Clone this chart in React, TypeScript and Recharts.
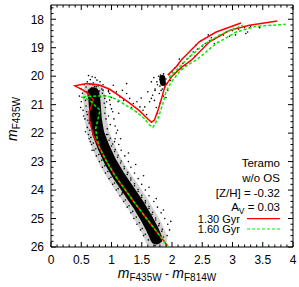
import React from 'react';
import { ComposedChart, Scatter, XAxis, YAxis } from 'recharts';

const FONT = '"Liberation Sans", Arial, Helvetica, sans-serif';

// tick labels
const X_MAJOR = [0, 0.5, 1, 1.5, 2, 2.5, 3, 3.5, 4];
const Y_MAJOR = [18, 19, 20, 21, 22, 23, 24, 25, 26];
const xTicks = Array.from({ length: 41 }, (_, i) => +(i * 0.1).toFixed(1));
const yTicks = Array.from({ length: 43 }, (_, i) => +(17.6 + i * 0.2).toFixed(1));

// isochrone 1.30 Gyr: MS -> turnoff hook -> subgiant -> RGB
const iso130: [number, number][] = [
  [1.94, 26.0], [1.76, 25.5], [1.58, 25.0], [1.4, 24.5], [1.23, 24.0], [1.06, 23.5],
  [0.92, 23.0], [0.8, 22.5], [0.7, 22.07], [0.64, 21.6], [0.63, 21.25], [0.67, 21.02],
  [0.7, 20.84], [0.61, 20.6], [0.53, 20.49], [0.395, 20.34], [0.59, 20.26], [0.81, 20.32],
  [0.97, 20.46], [1.15, 20.72], [1.3, 20.95], [1.465, 21.22], [1.575, 21.45], [1.66, 21.62],
  [1.71, 21.54], [1.77, 21.19], [1.82, 20.84], [1.88, 20.37], [2.0, 20.0], [2.15, 19.7],
  [2.32, 19.44], [2.62, 18.79], [2.95, 18.39], [3.28, 18.21], [3.74, 18.06],
];
const iso130Agb: [number, number][] = [
  [1.93, 19.96], [2.07, 19.67], [2.15, 19.44], [2.45, 18.79], [2.73, 18.45], [3.14, 18.13],
];

// isochrone 1.60 Gyr
const iso160: [number, number][] = [
  [1.94, 26.0], [1.76, 25.5], [1.58, 25.0], [1.4, 24.5], [1.23, 24.0], [1.06, 23.5],
  [0.92, 23.0], [0.8, 22.5], [0.75, 22.07], [0.74, 21.83], [0.78, 21.48], [0.81, 21.19],
  [0.72, 21.02], [0.64, 20.84], [0.5, 20.73], [0.81, 20.69], [0.97, 20.72], [1.11, 20.84],
  [1.19, 20.96], [1.41, 21.25], [1.55, 21.5], [1.62, 21.7], [1.685, 21.8], [1.77, 21.48],
  [1.85, 20.96], [1.9, 20.55], [1.99, 20.2], [2.12, 19.85], [2.26, 19.6], [2.4, 19.44],
  [2.73, 18.85], [3.06, 18.45], [3.39, 18.25], [3.88, 18.18],
];
const iso160Agb: [number, number][] = [
  [1.95, 20.05], [2.1, 19.73], [2.23, 19.44], [2.51, 18.91], [2.78, 18.56], [3.17, 18.21],
];

// ridge of the densest part of the star cloud
const msRidge: [number, number][] = [
  [0.7, 20.6], [0.72, 20.9], [0.74, 21.5], [0.78, 22.0], [0.87, 22.5], [0.98, 23.0],
  [1.12, 23.5], [1.28, 24.0], [1.44, 24.5], [1.58, 25.0], [1.68, 25.4], [1.74, 25.7],
];
const clumpRidge: [number, number][] = [[1.84, 20.06], [1.85, 20.24]];

// individual stars
const stars: [number, number][] = [
  // above the turnoff
  [0.62, 19.98], [0.68, 20.02], [0.73, 20.05], [0.65, 20.12], [0.76, 20.14], [0.6, 20.2],
  [0.81, 20.2], [0.7, 20.24], [0.55, 20.3], [0.64, 20.28], [0.86, 20.3], [0.58, 20.38],
  [0.78, 20.34], [0.9, 20.4], [0.72, 20.36], [0.67, 20.42], [0.84, 20.45], [0.5, 20.45],
  [0.95, 20.5], [0.62, 20.5], [0.69, 20.3], [0.74, 20.44], [0.8, 20.52], [0.66, 20.58],
  [0.77, 20.62], [0.85, 20.6], [0.63, 20.66], [0.88, 20.68], [0.59, 20.55], [0.71, 20.5],
  [0.68, 20.72], [0.75, 20.76], [0.82, 20.72], [0.7, 20.82], [0.79, 20.86], [0.66, 20.9],
  // turnoff fringes
  [0.52, 20.6], [0.5, 20.9], [0.53, 21.2], [0.56, 21.5], [0.6, 21.8], [0.62, 22.05],
  [0.55, 20.75], [0.58, 21.05], [0.6, 21.35], [0.63, 21.65], [0.47, 20.7], [0.49, 21.1],
  [0.54, 21.4], [0.57, 21.95], [0.65, 22.3], [0.68, 22.6], [0.57, 20.85], [0.59, 21.25],
  [0.61, 21.55], [0.64, 21.9],
  [0.95, 20.55], [1.0, 20.75], [0.98, 21.0], [1.02, 21.25], [1.04, 21.5], [1.06, 21.75],
  [1.08, 22.0], [0.92, 20.9], [0.95, 21.4], [0.98, 21.7], [1.12, 21.3], [1.1, 21.9],
  [1.15, 22.2], [1.05, 22.3], [1.0, 21.15], [0.9, 20.7], [0.9, 21.1], [0.91, 21.5],
  [0.93, 21.85], [0.88, 20.95], [0.94, 22.05], [0.89, 21.3],
  // subgiants
  [0.75, 20.37], [0.86, 20.49], [0.97, 20.61], [1.03, 20.32], [1.14, 20.73], [1.25, 20.61],
  [1.25, 20.26], [1.36, 20.96], [1.47, 21.08], [1.3, 20.78], [1.11, 20.9], [1.41, 21.25],
  [0.97, 20.84], [0.89, 20.78], [1.08, 20.55], [1.2, 20.85], [1.33, 21.1], [1.52, 21.2],
  [1.58, 21.35], [1.18, 20.5], [1.42, 20.9],
  // lower RGB
  [1.63, 20.9], [1.55, 21.08], [1.49, 20.77], [1.71, 20.85], [1.79, 20.61], [1.68, 20.67],
  [1.74, 21.1], [1.76, 21.3], [1.8, 20.95], [1.86, 20.7], [1.66, 20.78], [1.72, 20.45],
  [1.6, 20.55], [1.93, 20.5], [1.9, 20.75],
  // around the red clump
  [1.78, 20.0], [1.9, 20.1], [1.8, 20.35], [1.88, 20.4], [1.75, 20.2], [1.95, 19.95],
  [1.72, 20.5], [1.82, 20.5], [1.92, 20.25], [1.76, 20.3], [1.86, 19.92], [1.97, 20.15],
  [1.7, 20.05], [1.84, 20.45], [1.66, 20.2], [1.8, 20.12], [1.89, 20.3], [1.81, 19.96],
  // upper RGB / AGB
  [2.0, 19.85], [2.05, 19.7], [2.1, 19.6], [2.18, 19.55], [2.25, 19.4], [2.3, 19.3],
  [2.35, 19.15], [2.42, 19.05], [2.5, 18.95], [2.55, 18.85], [2.62, 18.75], [2.7, 18.7],
  [2.78, 18.6], [2.85, 18.55], [2.9, 18.45], [3.0, 18.4], [3.1, 18.35], [3.2, 18.3],
  [3.3, 18.25], [3.45, 18.3], [3.25, 18.45], [3.05, 18.55], [2.7, 18.85], [2.6, 18.55],
  [2.48, 18.75], [2.15, 19.75], [2.22, 19.62], [2.38, 19.3], [2.95, 18.6], [3.28, 18.3],
  [3.44, 18.27], [3.22, 18.5], [2.12, 19.4], [2.4, 18.9], [2.65, 18.65],
  // main sequence, just outside the dense core
  [0.66, 22.15], [0.92, 22.05], [0.98, 22.18], [0.7, 22.35], [0.96, 22.25], [1.02, 22.38],
  [0.74, 22.55], [1.0, 22.45], [1.06, 22.58], [0.79, 22.75], [1.05, 22.65], [1.11, 22.78],
  [0.84, 22.95], [1.1, 22.85], [1.16, 22.98], [0.89, 23.15], [1.15, 23.05], [1.21, 23.18],
  [0.94, 23.35], [1.21, 23.25], [1.27, 23.38], [0.99, 23.55], [1.26, 23.45], [1.32, 23.58],
  [1.05, 23.75], [1.32, 23.65], [1.38, 23.78], [1.11, 23.95], [1.38, 23.85], [1.44, 23.98],
  [1.17, 24.15], [1.44, 24.05], [1.5, 24.18], [1.23, 24.35], [1.5, 24.25], [1.56, 24.38],
  [1.29, 24.55], [1.56, 24.45], [1.62, 24.58], [1.35, 24.75], [1.62, 24.65], [1.68, 24.78],
  [1.41, 24.95], [1.67, 24.85], [1.73, 24.98], [1.46, 25.15], [1.73, 25.05], [1.79, 25.18],
  [1.51, 25.35], [1.78, 25.25], [1.84, 25.38], [1.56, 25.55], [1.83, 25.45], [1.61, 25.75],
  [1.86, 25.65], [1.69, 25.85], [1.82, 25.8],
  // main sequence, outer fringes
  [0.63, 22.2], [1.06, 22.2], [0.67, 22.4], [1.12, 22.4], [0.71, 22.6], [1.16, 22.6],
  [0.75, 22.8], [1.22, 22.8], [0.8, 23.0], [1.28, 23.0], [0.85, 23.2], [1.32, 23.2],
  [0.9, 23.4], [1.38, 23.4], [0.96, 23.6], [1.44, 23.6], [1.02, 23.8], [1.5, 23.8],
  [1.08, 24.0], [1.56, 24.0], [1.14, 24.2], [1.62, 24.2], [1.2, 24.4], [1.7, 24.4],
  [1.26, 24.6], [1.76, 24.6], [1.32, 24.8], [1.82, 24.8], [1.37, 25.0], [1.88, 25.0],
  [1.42, 25.2], [1.93, 25.2], [1.48, 25.4], [1.96, 25.4], [1.53, 25.6], [1.92, 25.6],
  [1.87, 25.8], [1.72, 25.95], [1.91, 25.95],
  [0.92, 22.3], [1.28, 22.7], [1.4, 23.1], [1.53, 23.5], [1.62, 23.9], [1.74, 24.3],
  [1.86, 24.7], [1.98, 25.1], [1.6, 25.5], [1.18, 24.1], [1.08, 23.3],
];

const pts = (a: [number, number][]) => a.map(([c, m]) => ({ c, m }));
const noDot = () => <g />;
const starDot = (p: any) => <circle cx={p.cx} cy={p.cy} r={0.8} fill="#000" />;

const BottomTick = ({ x, y, payload }: any) => {
  const major = X_MAJOR.includes(payload.value);
  return (
    <g>
      <line x1={x} x2={x} y1={y} y2={y - (major ? 5 : 2.5)} stroke="#000" />
      {major && (
        <text x={x} y={y + 17} textAnchor="middle" fontSize={12} fontFamily={FONT} fill="#000">
          {payload.value}
        </text>
      )}
    </g>
  );
};
const TopTick = ({ x, y, payload }: any) => {
  const major = X_MAJOR.includes(payload.value);
  return <line x1={x} x2={x} y1={y} y2={y + (major ? 5 : 2.5)} stroke="#000" />;
};
const LeftTick = ({ x, y, payload }: any) => {
  const major = Y_MAJOR.includes(payload.value);
  return (
    <g>
      <line x1={x} x2={x + (major ? 5 : 2.5)} y1={y} y2={y} stroke="#000" />
      {major && (
        <text x={x - 7} y={y + 4.3} textAnchor="end" fontSize={12} fontFamily={FONT} fill="#000">
          {payload.value}
        </text>
      )}
    </g>
  );
};
const RightTick = ({ x, y, payload }: any) => {
  const major = Y_MAJOR.includes(payload.value);
  return <line x1={x} x2={x - (major ? 5 : 2.5)} y1={y} y2={y} stroke="#000" />;
};

export default function App() {
  return (
    <div style={{ position: 'absolute', left: 0, top: 0, width: 299, height: 287, background: '#fff' }}>
      <ComposedChart width={299} height={287} margin={{ top: 0, right: 0, bottom: 0, left: 0 }}>
        <XAxis
          xAxisId="b" dataKey="c" type="number" domain={[0, 4]} ticks={xTicks} interval={0}
          height={40} tickSize={0} tickMargin={0} tick={<BottomTick />} axisLine={{ stroke: '#000' }}
          tickLine={false} allowDataOverflow
        />
        <XAxis
          xAxisId="t" orientation="top" dataKey="c" type="number" domain={[0, 4]} ticks={xTicks}
          interval={0} height={5} tickSize={0} tickMargin={0} tick={<TopTick />}
          axisLine={{ stroke: '#000' }} tickLine={false} allowDataOverflow
        />
        <YAxis
          yAxisId="l" dataKey="m" type="number" domain={[17.5, 26]} reversed ticks={yTicks}
          interval={0} width={51} tickSize={0} tickMargin={0} tick={<LeftTick />}
          axisLine={{ stroke: '#000' }} tickLine={false} allowDataOverflow
        />
        <YAxis
          yAxisId="r" orientation="right" dataKey="m" type="number" domain={[17.5, 26]} reversed
          ticks={yTicks} interval={0} width={6} tickSize={0} tickMargin={0} tick={<RightTick />}
          axisLine={{ stroke: '#000' }} tickLine={false} allowDataOverflow
        />

        {/* dense parts of the cloud */}
        <Scatter xAxisId="b" yAxisId="l" data={pts(msRidge)} shape={noDot} isAnimationActive={false}
          line={{ stroke: '#000', strokeOpacity: 0.18, strokeWidth: 22, strokeLinejoin: 'round', strokeLinecap: 'round', fill: 'none' }} />
        <Scatter xAxisId="b" yAxisId="l" data={pts(msRidge)} shape={noDot} isAnimationActive={false}
          line={{ stroke: '#000', strokeWidth: 12, strokeLinejoin: 'round', strokeLinecap: 'round', fill: 'none' }} />
        <Scatter xAxisId="b" yAxisId="l" data={pts(clumpRidge)} shape={noDot} isAnimationActive={false}
          line={{ stroke: '#000', strokeWidth: 6, strokeLinecap: 'round' }} />
        <Scatter xAxisId="b" yAxisId="l" data={pts(stars)} shape={starDot} isAnimationActive={false} />

        {/* isochrones */}
        <Scatter xAxisId="b" yAxisId="l" data={pts(iso130)} shape={noDot} isAnimationActive={false}
          line={{ stroke: '#ff0000', strokeWidth: 1.5, fill: 'none' }} />
        <Scatter xAxisId="b" yAxisId="l" data={pts(iso130Agb)} shape={noDot} isAnimationActive={false}
          line={{ stroke: '#ff0000', strokeWidth: 1.5, fill: 'none' }} />
        <Scatter xAxisId="b" yAxisId="l" data={pts(iso160)} shape={noDot} isAnimationActive={false}
          line={{ stroke: '#00ee00', strokeWidth: 1.5, strokeDasharray: '3 2', fill: 'none' }} />
        <Scatter xAxisId="b" yAxisId="l" data={pts(iso160Agb)} shape={noDot} isAnimationActive={false}
          line={{ stroke: '#00ee00', strokeWidth: 1.5, strokeDasharray: '3 2', fill: 'none' }} />

        {/* axis titles */}
        <text transform="translate(17,141) rotate(-90)" fontFamily={FONT} fill="#000">
          <tspan fontSize={14} fontStyle="italic">m</tspan>
          <tspan fontSize={10} dy={3}>F435W</tspan>
        </text>
        <text x={167} y={278} textAnchor="middle" fontFamily={FONT} fill="#000">
          <tspan fontSize={14} fontStyle="italic">m</tspan>
          <tspan fontSize={10} dy={3}>F435W</tspan>
          <tspan fontSize={12} dy={-3}> - </tspan>
          <tspan fontSize={14} fontStyle="italic">m</tspan>
          <tspan fontSize={10} dy={3}>F814W</tspan>
        </text>

        {/* key */}
        <g fontFamily={FONT} fontSize={11.5} fill="#000">
          <text x={280} y={166.5} textAnchor="end">Teramo</text>
          <text x={280} y={181.5} textAnchor="end">w/o OS</text>
          <text x={280} y={196.5} textAnchor="end">[Z/H] = -0.32</text>
          <text x={280} y={210.5} textAnchor="end">
            A<tspan fontSize={8.5} dy={3}>V</tspan><tspan dy={-3}> = 0.03</tspan>
          </text>
          <text x={240} y={222.5} textAnchor="end" fontSize={11}>1.30 Gyr</text>
          <text x={240} y={233} textAnchor="end" fontSize={11}>1.60 Gyr</text>
          <line x1={247} x2={280} y1={218.7} y2={218.7} stroke="#ff0000" strokeWidth={1.2} />
          <line x1={247} x2={280} y1={229} y2={229} stroke="#00ee00" strokeWidth={1.2} strokeDasharray="3 2" />
        </g>
      </ComposedChart>
    </div>
  );
}
